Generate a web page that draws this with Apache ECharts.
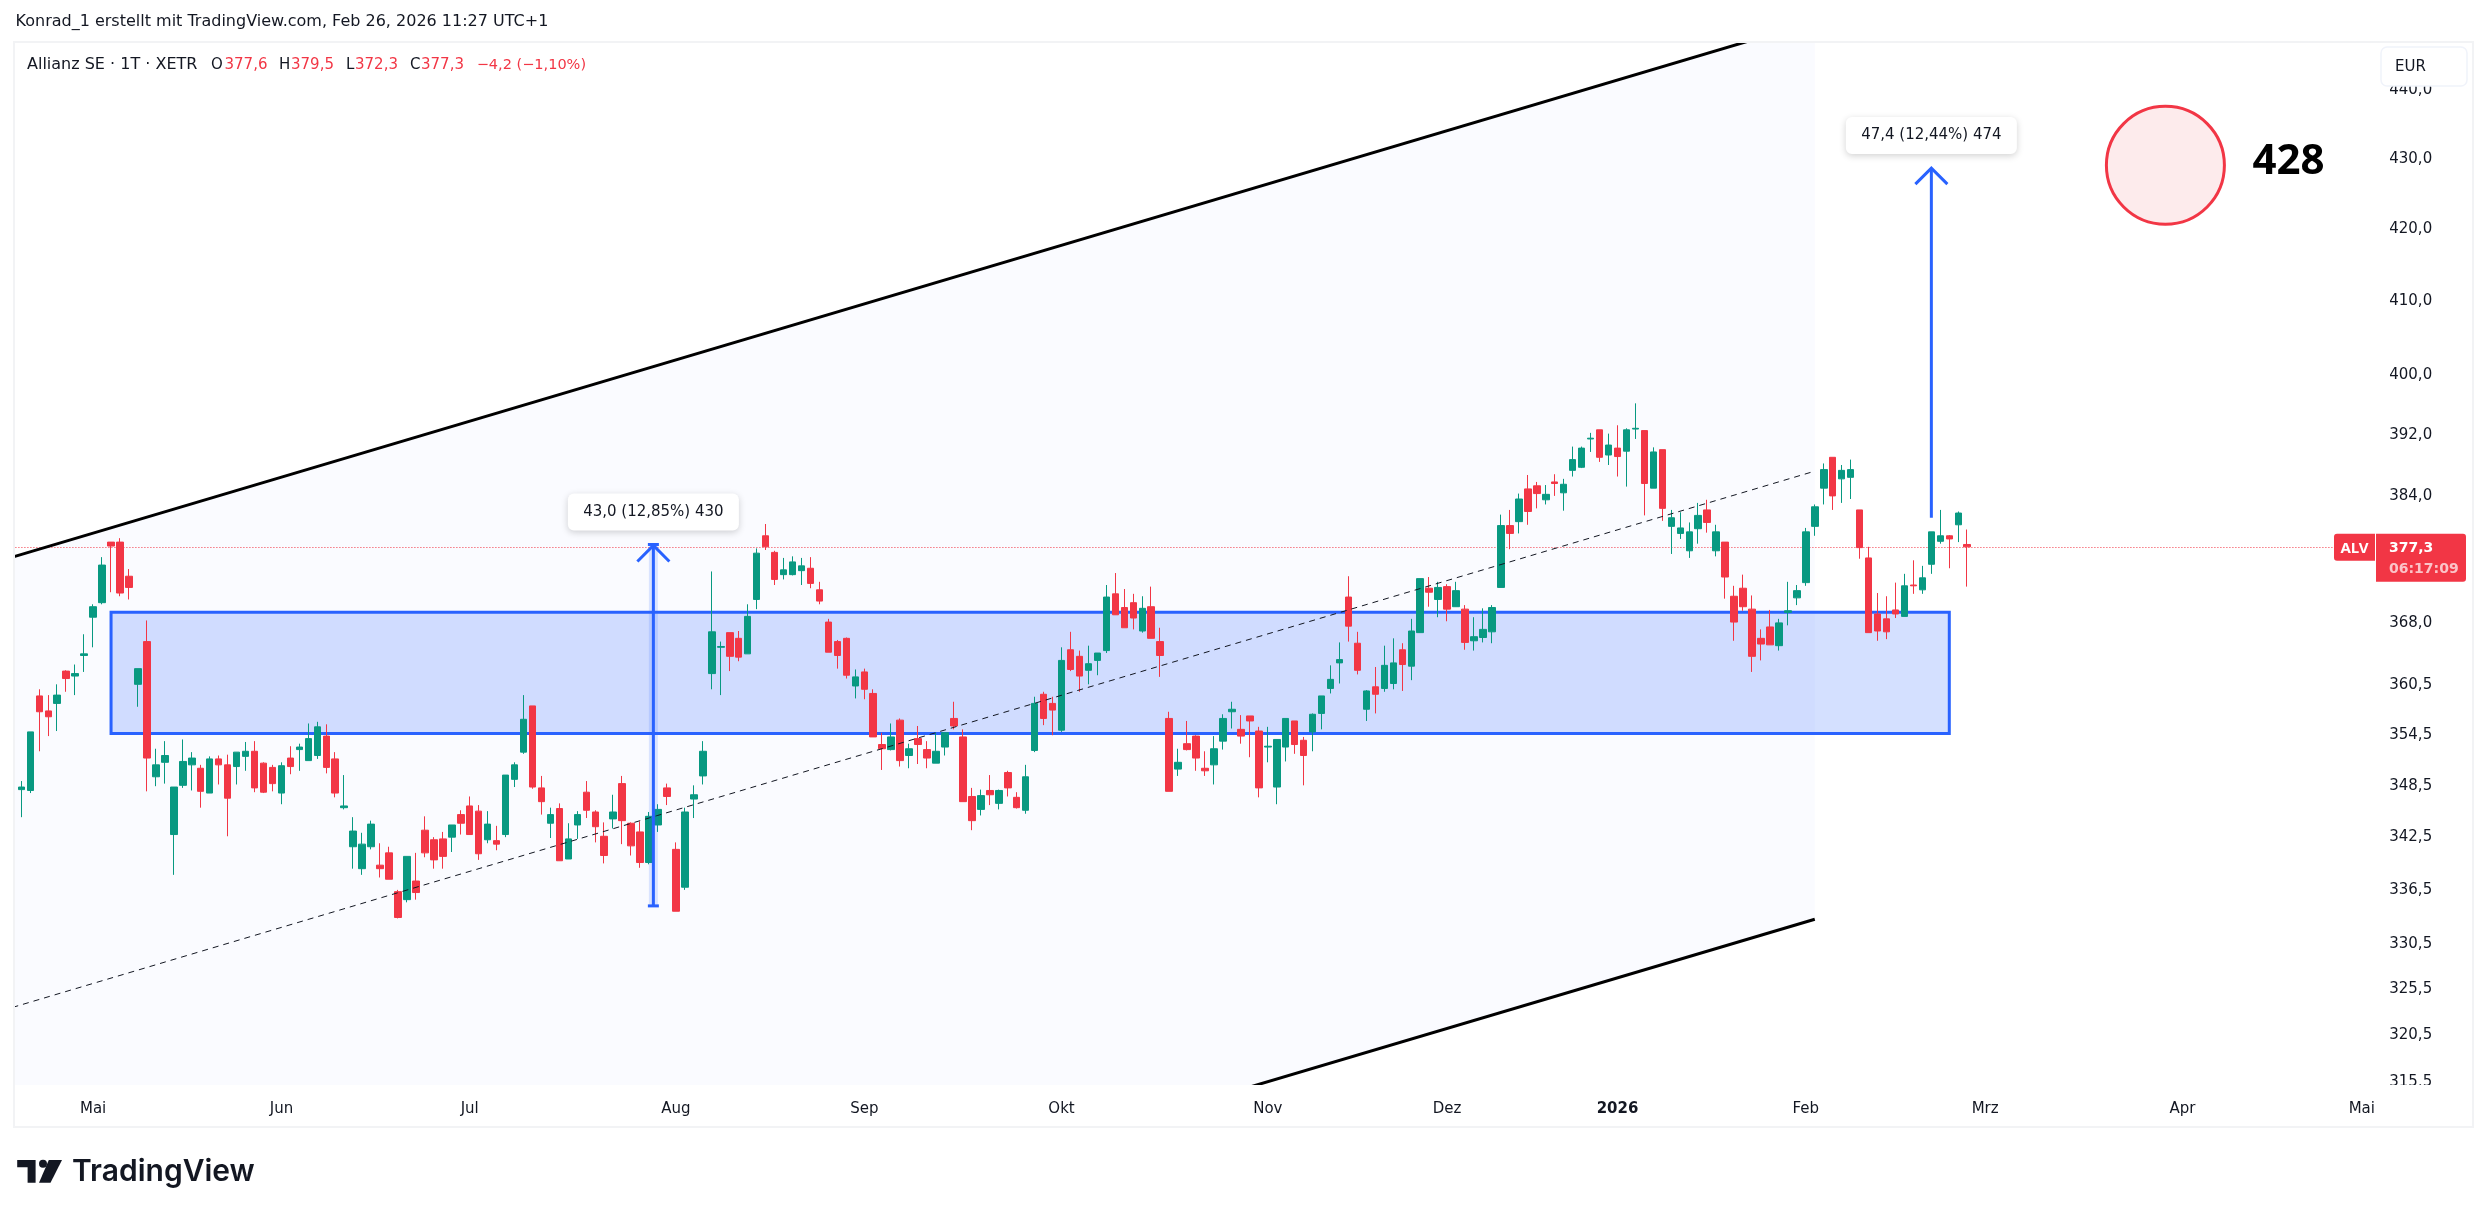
<!DOCTYPE html>
<html>
<head>
<meta charset="utf-8">
<title>Allianz SE</title>
<script src="https://cdn.jsdelivr.net/npm/echarts@6/dist/echarts.min.js"></script>
<style>
html, body { margin: 0; padding: 0; background: #fff; }
#chart { width: 2489px; height: 1217px; }
</style>
</head>
<body>
<div id="chart"></div>
<script>
// Tageskerzen, Mai 2025 bis Feb 2026
const opens = [
347.8,347.7,358.9,357.1,358.0,361.9,361.3,363.8,368.5,370.3,
377.9,377.9,373.6,360.3,365.5,349.3,351.0,342.6,348.3,350.7,
350.3,347.4,351.4,350.7,350.5,351.7,352.3,350.9,350.4,347.4,
351.5,352.5,351.2,351.8,354.1,351.4,345.7,341.2,338.7,341.2,
339.1,340.5,336.1,335.2,337.3,343.1,342.0,342.1,342.3,344.9,
345.9,345.3,342.0,341.9,342.6,349.0,352.2,357.7,348.0,343.9,
345.6,339.8,343.7,347.5,345.2,342.4,344.4,348.5,343.9,342.9,
339.4,343.7,348.0,340.9,336.6,346.7,349.4,361.6,364.8,366.6,
365.9,364.0,370.7,378.7,376.6,373.8,373.8,374.3,374.6,371.9,
367.9,365.5,365.9,360.1,361.8,359.2,353.1,352.5,356.0,351.8,
353.8,352.5,350.9,352.8,356.2,354.0,347.0,345.5,347.7,346.2,
349.8,346.9,345.4,352.4,359.1,358.0,354.8,364.5,363.7,362.0,
363.2,364.4,371.4,369.7,370.3,366.8,369.8,365.5,356.2,350.2,
353.2,354.1,350.3,350.7,353.5,357.0,354.9,356.5,354.7,352.8,
348.1,352.8,355.9,353.6,354.6,356.8,359.8,362.9,371.0,365.3,
357.3,360.0,359.8,360.4,364.5,362.5,366.6,372.1,370.7,372.3,
369.8,369.5,365.6,366.0,366.7,372.2,380.0,380.5,384.7,385.1,
383.3,385.6,384.2,387.1,387.5,391.2,392.4,389.1,390.0,389.6,
392.5,392.3,384.8,389.8,379.9,379.0,376.8,379.6,382.0,376.8,
377.9,371.1,372.1,369.5,365.9,367.3,365.0,369.1,370.9,372.8,
379.9,384.8,388.8,386.0,386.2,382.0,375.9,368.9,368.3,369.4,
368.6,372.5,371.9,375.1,378.0,378.7,380.1,377.6
];
const closes = [
348.1,354.6,357.0,356.4,359.0,361.0,361.6,364.0,369.8,375.0,
377.4,371.5,372.2,362.2,351.5,350.7,351.8,348.1,351.1,351.5,
347.6,351.4,350.7,346.8,352.2,352.3,348.0,347.5,348.5,350.6,
350.5,352.8,353.8,355.2,350.4,347.4,345.9,343.0,341.5,343.8,
338.7,337.5,333.2,340.1,336.0,340.5,339.7,340.1,343.7,343.9,
342.6,340.4,343.8,341.5,349.5,350.7,356.1,348.1,346.4,344.9,
339.6,342.1,344.9,345.4,343.5,340.2,345.2,344.2,341.3,339.4,
344.7,345.5,347.0,333.9,345.2,347.2,352.3,366.7,364.9,363.7,
363.6,368.6,376.5,377.3,373.2,374.4,375.4,374.9,372.7,370.5,
364.2,363.8,361.4,361.2,359.7,354.0,352.6,354.0,351.2,352.6,
353.1,351.5,352.3,354.5,355.3,346.4,344.2,347.1,347.2,347.7,
348.0,345.7,349.3,358.0,356.2,357.2,363.2,362.1,361.3,362.8,
364.1,371.0,368.8,367.2,368.4,369.6,365.9,363.8,347.6,351.0,
352.5,351.5,350.0,352.6,356.2,357.3,354.1,355.9,348.0,352.9,
353.7,356.2,353.1,351.8,356.7,358.9,360.9,363.3,367.4,362.0,
359.5,359.1,362.6,362.9,362.7,366.8,373.3,371.6,372.2,369.5,
371.8,365.4,366.1,367.0,369.7,380.0,379.0,383.4,381.8,384.1,
384.0,385.4,385.3,388.5,390.0,391.3,388.8,390.4,388.9,392.4,
392.6,385.4,389.5,382.2,381.0,379.7,379.2,381.3,380.4,379.2,
373.5,367.9,369.8,363.7,365.2,365.1,367.8,369.3,371.8,379.2,
382.4,387.2,383.8,387.1,387.2,377.2,366.6,366.8,366.7,368.9,
372.4,372.4,373.4,379.2,378.7,378.3,381.6,377.3
];
const lows = [
344.6,347.4,352.3,354.1,354.7,359.4,359.0,361.8,364.8,370.1,
371.6,371.1,370.7,357.6,347.6,348.2,348.5,338.0,348.0,347.7,
345.7,347.4,348.4,342.4,348.4,350.0,347.5,347.4,347.6,346.1,
349.6,350.0,351.2,351.4,349.7,346.9,345.5,338.7,338.0,340.9,
337.7,337.5,333.1,334.9,335.2,340.0,338.7,338.7,340.6,342.6,
342.6,339.7,341.6,340.8,342.3,348.1,352.0,347.9,344.9,342.2,
339.6,339.8,342.1,344.5,341.7,339.3,343.3,341.5,340.2,338.8,
339.2,342.9,346.0,333.9,336.3,344.5,348.4,359.7,359.0,361.9,
363.1,364.0,369.5,376.9,372.5,373.2,373.7,372.5,372.1,370.1,
364.2,362.2,361.0,358.6,358.5,354.0,350.1,352.4,350.5,350.3,
350.8,350.3,350.9,351.8,354.9,346.4,343.1,344.8,346.0,345.5,
347.0,345.6,345.0,352.2,355.4,354.2,354.6,361.9,359.4,360.3,
361.4,364.1,368.8,367.2,367.0,366.6,365.9,361.2,347.6,349.4,
352.4,350.0,349.4,348.4,352.5,355.0,353.2,351.6,346.9,351.0,
346.1,351.1,352.0,348.3,352.3,354.9,359.2,360.4,365.5,361.5,
355.9,356.8,359.4,359.7,359.5,360.8,366.6,369.8,368.5,368.0,
369.8,364.5,364.4,365.4,365.3,372.2,377.0,379.0,380.1,382.2,
382.7,383.8,381.9,386.3,387.4,389.5,388.2,387.8,386.3,385.0,
391.2,381.3,384.8,380.6,376.4,378.3,375.9,377.7,379.1,376.1,
370.8,365.6,369.3,361.8,363.2,365.1,364.4,367.5,370.0,372.4,
378.7,382.7,382.0,382.9,383.4,375.8,366.6,365.6,365.8,368.4,
368.6,371.4,371.4,373.9,377.7,374.6,377.9,372.3
];
const highs = [
348.8,354.6,359.7,359.0,360.3,362.0,362.7,366.4,370.1,376.0,
377.9,378.4,374.5,362.2,368.1,352.6,353.5,348.1,353.7,352.2,
350.7,351.7,351.8,351.9,352.2,353.4,353.5,351.0,350.7,351.0,
352.9,353.2,355.6,355.8,355.5,352.2,349.5,344.6,342.8,344.2,
341.6,341.2,336.3,340.1,340.5,344.7,342.3,342.9,343.7,345.4,
347.0,346.0,345.3,343.6,349.5,351.0,359.0,357.7,349.4,345.7,
346.2,343.9,345.3,348.8,345.4,344.0,347.2,349.4,344.0,344.1,
345.2,346.1,348.5,341.7,345.7,348.3,353.5,374.2,365.5,366.6,
366.8,370.1,377.1,380.2,376.8,375.9,376.1,375.9,376.0,372.9,
368.3,365.7,366.0,362.1,362.2,359.7,354.5,355.6,356.2,353.2,
355.3,353.5,354.5,354.5,358.2,354.9,348.0,347.8,349.5,347.8,
350.0,347.5,350.7,358.8,359.4,358.8,364.8,366.7,364.4,365.0,
364.1,372.5,374.0,372.0,371.4,371.1,372.3,367.2,357.0,352.6,
355.9,354.2,352.3,354.1,356.7,358.2,356.6,356.5,355.2,355.2,
353.7,356.2,355.9,354.0,356.8,358.9,362.6,365.4,373.6,366.7,
359.6,362.4,365.0,365.9,365.3,368.3,373.3,373.5,372.9,372.6,
372.9,370.0,368.5,369.6,370.0,381.4,382.0,384.1,386.5,385.6,
385.2,386.6,386.0,390.2,390.2,392.0,392.4,391.9,393.0,392.6,
395.9,392.3,390.1,389.8,382.0,381.7,380.4,382.9,383.3,380.1,
377.9,372.4,373.8,371.2,367.0,369.4,368.3,372.9,372.5,379.7,
382.7,388.0,388.8,387.8,388.5,382.0,377.3,371.5,371.1,372.8,
373.9,375.6,374.9,379.2,382.0,378.8,381.8,379.5
];

// Preisachse
const priceTicks = [440,430,420,410,400,392,384,368,360.5,354.5,348.5,342.5,336.5,330.5,325.5,320.5,315.5];
const priceMin = 315.0;
const priceMax = 446.9;
const lastPrice = 377.3;

// Zeitachse: Position im Raster, Beschriftung
const monthSlots = [9,30,51,74,95,117,140,160,179,200,220,242,262];
const monthNames = ['Mai','Jun','Jul','Aug','Sep','Okt','Nov','Dez','2026','Feb','Mrz','Apr','Mai'];
const slotCount = 264;

// Zeichnungen: [Slot, Preis]
const channelUpper = [[0,376.0],[201,450.0]];
const channelMiddle = [[0,323.3],[201,387.0]];
const channelLower = [[0,278.3],[201,333.0]];
const zoneCorners = [[11,369.1],[216,354.4]];
const rangeOne = [[71.48,334.5],[71.48,377.6]];
const rangeTwo = [[214,381.0],[214,428.4]];
const rangeOneText = '43,0 (12,85%) 430';
const rangeTwoText = '47,4 (12,44%) 474';
const targetPoint = [240.1,428.8];
const targetText = '428';

const GREEN = '#089981';
const RED = '#f23645';
const BLUE = '#2962ff';
const AXIS_FONT = '"DejaVu Sans"';

const candles = opens.map((o, i) => [i + 1, o, closes[i], lows[i], highs[i]]);
const xKeys = Array.from({ length: slotCount }, (_, i) => String(i));

// Slot kann krumm sein, die Kategorieachse rundet sonst
function pt(api, slot, price) {
    const f = Math.floor(slot);
    const c = api.coord([f, price]);
    return [c[0] + (slot - f) * api.size([1, 0])[0], c[1]];
}

function drawing(z, clip, draw) {
    return {
        type: 'custom',
        z: z,
        clip: clip,
        silent: true,
        animation: false,
        data: [[1, lastPrice]],
        encode: { x: 0, y: 1 },
        renderItem: (params, api) => ({ type: 'group', children: draw(api) })
    };
}

function line(a, b, style) {
    return { type: 'line', shape: { x1: a[0], y1: a[1], x2: b[0], y2: b[1] }, style: Object.assign({ fill: null }, style) };
}

function rangeTag(x, topY, text) {
    return [
        {
            type: 'rect',
            shape: { x: x - 85.5, y: topY - 51, width: 171, height: 37, r: 6 },
            style: { fill: '#fff', shadowBlur: 7, shadowColor: 'rgba(0,0,0,0.18)', shadowOffsetY: 2 }
        },
        {
            type: 'text',
            style: { text: text, x: x, y: topY - 32.5, align: 'center', verticalAlign: 'middle', font: '15px ' + AXIS_FONT, fill: '#131722' }
        }
    ];
}

const chevronStyle = { stroke: BLUE, lineWidth: 3 };

function chevron(x, topY) {
    return {
        type: 'polyline',
        shape: { points: [[x - 16, topY + 16], [x, topY], [x + 16, topY + 16]] },
        style: Object.assign({ fill: null }, chevronStyle)
    };
}

const seriesList = [
    // Kanalfläche und Zone liegen unter den Kerzen
    drawing(1, true, api => [{
        type: 'polygon',
        shape: { points: [
            pt(api, channelUpper[0][0], channelUpper[0][1]),
            pt(api, channelUpper[1][0], channelUpper[1][1]),
            pt(api, channelLower[1][0], channelLower[1][1]),
            pt(api, channelLower[0][0], channelLower[0][1])
        ] },
        style: { fill: '#fafbff' }
    }]),
    drawing(2, true, api => {
        const a = pt(api, zoneCorners[0][0], zoneCorners[0][1]);
        const b = pt(api, zoneCorners[1][0], zoneCorners[1][1]);
        return [{
            type: 'rect',
            shape: { x: a[0], y: a[1], width: b[0] - a[0], height: b[1] - a[1] },
            style: { fill: 'rgba(41,98,255,0.2)', stroke: BLUE, lineWidth: 3 }
        }];
    }),
    drawing(3, true, api => {
        const y = Math.round(api.coord([1, lastPrice])[1]) + 0.5;
        return [line([pt(api, 0, lastPrice)[0], y], [pt(api, 259, lastPrice)[0], y], { stroke: RED, lineWidth: 1, lineDash: [1, 2] })];
    }),
    {
        type: 'candlestick',
        z: 4,
        animation: false,
        silent: true,
        barWidth: 7,
        encode: { x: 0, y: [1, 2, 3, 4] },
        itemStyle: { color: GREEN, borderColor: GREEN, color0: RED, borderColor0: RED, borderWidth: 1 },
        data: candles
    },
    drawing(5, true, api => [
        line(pt(api, channelUpper[0][0], channelUpper[0][1]), pt(api, channelUpper[1][0], channelUpper[1][1]), { stroke: '#000', lineWidth: 3 }),
        line(pt(api, channelLower[0][0], channelLower[0][1]), pt(api, channelLower[1][0], channelLower[1][1]), { stroke: '#000', lineWidth: 3 }),
        line(pt(api, channelMiddle[0][0], channelMiddle[0][1]), pt(api, channelMiddle[1][0], channelMiddle[1][1]), { stroke: '#131722', lineWidth: 1, lineDash: [6, 5] })
    ]),
    // Pfeile mit Beschriftung
    drawing(6, true, api => {
        const low = pt(api, rangeOne[0][0], rangeOne[0][1]);
        const top = pt(api, rangeOne[1][0], rangeOne[1][1]);
        const low2 = pt(api, rangeTwo[0][0], rangeTwo[0][1]);
        const top2 = pt(api, rangeTwo[1][0], rangeTwo[1][1]);
        return [
            { type: 'rect', shape: { x: low[0] - 4.5, y: top[1], width: 9, height: low[1] - top[1] }, style: { fill: 'rgba(41,98,255,0.15)' } },
            line(low, top, chevronStyle),
            line([low[0] - 5.5, low[1]], [low[0] + 5.5, low[1]], chevronStyle),
            line([top[0] - 5.5, top[1]], [top[0] + 5.5, top[1]], chevronStyle),
            chevron(top[0], top[1] + 1),
            ...rangeTag(top[0], top[1], rangeOneText),
            line(low2, top2, chevronStyle),
            chevron(top2[0], top2[1]),
            ...rangeTag(top2[0], top2[1], rangeTwoText)
        ];
    }),
    // Zielkreis
    drawing(6, true, api => {
        const c = pt(api, targetPoint[0], targetPoint[1]);
        return [
            { type: 'circle', shape: { cx: c[0], cy: c[1], r: 59 }, style: { fill: '#fdebec', stroke: RED, lineWidth: 3 } },
            { type: 'text', style: { text: targetText, x: c[0] + 123, y: c[1] - 3, align: 'center', verticalAlign: 'middle', font: 'bold 42px "Open Sans"', fill: '#000' } }
        ];
    }),
    // Kursmarke rechts, ragt aus dem Raster
    drawing(60, false, api => {
        const y = api.coord([1, lastPrice])[1];
        return [
            { type: 'rect', shape: { x: 2334, y: y - 13, width: 41, height: 27, r: [3, 0, 0, 3] }, style: { fill: RED } },
            { type: 'rect', shape: { x: 2376, y: y - 13, width: 90, height: 48, r: [0, 3, 3, 0] }, style: { fill: RED } },
            { type: 'text', style: { text: 'ALV', x: 2354.5, y: y + 2, align: 'center', verticalAlign: 'middle', font: 'bold 15px "Noto Sans"', fill: '#fff' } },
            { type: 'text', style: { text: '377,3', x: 2389, y: y + 2, align: 'left', verticalAlign: 'middle', font: 'bold 14px ' + AXIS_FONT, fill: '#fff' } },
            { type: 'text', style: { text: '06:17:09', x: 2389, y: y + 23, align: 'left', verticalAlign: 'middle', font: 'bold 14px ' + AXIS_FONT, fill: '#fbc3c8' } }
        ];
    })
];

function headText(text, x, fill, size) {
    return { type: 'text', z: 70, style: { text: text, x: x, y: 65, verticalAlign: 'middle', font: (size || 15) + 'px ' + AXIS_FONT, fill: fill } };
}

const chart = echarts.init(document.getElementById('chart'), null, { renderer: 'canvas' });
chart.setOption({
    backgroundColor: '#fff',
    animation: false,
    grid: { left: 7.93, top: 42, width: 2367.3, height: 1043, containLabel: false },
    xAxis: {
        type: 'category',
        data: xKeys,
        boundaryGap: true,
        axisLine: { show: false },
        axisTick: { show: false },
        splitLine: { show: false },
        axisLabel: {
            margin: 17,
            hideOverlap: false,
            interval: i => monthSlots.includes(i),
            fontFamily: AXIS_FONT,
            fontSize: 15,
            color: '#131722',
            formatter: (v, i) => {
                const name = monthNames[monthSlots.indexOf(i)];
                return name === '2026' ? '{y|2026}' : name;
            },
            rich: { y: { fontFamily: AXIS_FONT, fontSize: 15, fontWeight: 'bold', color: '#131722' } }
        }
    },
    yAxis: {
        type: 'log',
        logBase: 10,
        position: 'right',
        min: priceMin,
        max: priceMax,
        axisLine: { show: false },
        axisTick: { show: false },
        splitLine: { show: false },
        minorTick: { show: false },
        axisLabel: {
            customValues: priceTicks,
            margin: 14,
            align: 'left',
            fontFamily: AXIS_FONT,
            fontSize: 15,
            color: '#131722',
            showMinLabel: true,
            showMaxLabel: true,
            // Text sitzt sonst etwas zu hoch
            formatter: v => '{p|' + Number(v).toFixed(1).replace('.', ',') + '}',
            rich: { p: { fontFamily: AXIS_FONT, fontSize: 15, color: '#131722', padding: [4, 0, 0, 0] } }
        }
    },
    series: seriesList,
    graphic: { elements: [
        // Abdeckung links, unten, EUR-Feld
        { type: 'rect', z: 50, silent: true, shape: { x: 0, y: 30, width: 14, height: 1100 }, style: { fill: '#fff' } },
        { type: 'rect', z: 50, silent: true, shape: { x: 2378, y: 1085, width: 94, height: 12 }, style: { fill: '#fff' } },
        { type: 'rect', z: 51, silent: true, shape: { x: 14, y: 42, width: 2459, height: 1085 }, style: { fill: null, stroke: '#f2f3f5', lineWidth: 2 } },
        { type: 'rect', z: 52, silent: true, shape: { x: 2381, y: 47, width: 86, height: 39, r: 6 }, style: { fill: '#fff', stroke: '#f0f3fa', lineWidth: 1.5 } },
        { type: 'text', z: 53, style: { text: 'EUR', x: 2395, y: 67, verticalAlign: 'middle', font: '15px ' + AXIS_FONT, fill: '#131722' } },
        // Kopfzeilen
        { type: 'text', z: 70, style: { text: 'Konrad_1 erstellt mit TradingView.com, Feb 26, 2026 11:27 UTC+1', x: 15.5, y: 22, verticalAlign: 'middle', font: '16px ' + AXIS_FONT, fill: '#131722' } },
        headText('Allianz SE · 1T · XETR', 27, '#131722', 16),
        headText('O', 211, '#131722'), headText('377,6', 224.5, RED),
        headText('H', 279, '#131722'), headText('379,5', 291, RED),
        headText('L', 346, '#131722'), headText('372,3', 355, RED),
        headText('C', 410, '#131722'), headText('377,3', 421, RED),
        headText('−4,2 (−1,10%)', 476.7, RED, 14.5),
        // Logo
        { type: 'polygon', z: 70, shape: { points: [[17.2,1160],[35.6,1160],[35.6,1182.7],[27.6,1182.7],[27.6,1167.3],[17.2,1167.3]] }, style: { fill: '#131722' } },
        { type: 'circle', z: 70, shape: { cx: 43, cy: 1163.7, r: 4 }, style: { fill: '#131722' } },
        { type: 'polygon', z: 70, shape: { points: [[48.8,1160],[62,1160],[50.5,1182.7],[39,1182.7]] }, style: { fill: '#131722' } },
        { type: 'text', z: 70, style: { text: 'TradingView', x: 72, y: 1172, verticalAlign: 'middle', font: '600 30px Inter', fill: '#131722' } }
    ] }
});
</script>
</body>
</html>
